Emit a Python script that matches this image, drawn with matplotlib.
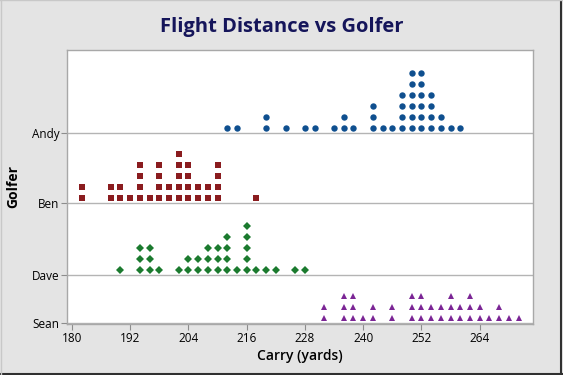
import matplotlib
matplotlib.use('Agg')
import matplotlib.pyplot as plt
from matplotlib.lines import Line2D

plt.rcParams['font.family'] = ['Open Sans', 'DejaVu Sans']

# 每个高尔夫球手的飞行距离（分箱中心，码）和每箱的点数
golfers = ['Sean', 'Dave', 'Ben', 'Andy']

andy_bins = [212, 214, 220, 224, 228, 230, 234, 236, 238, 242, 244, 246, 248, 250, 252, 254, 256, 258, 260]
andy_counts = [1, 1, 2, 1, 1, 1, 1, 2, 1, 3, 1, 1, 4, 6, 6, 4, 2, 1, 1]

ben_bins = [182, 188, 190, 192, 194, 196, 198, 200, 202, 204, 206, 208, 210, 218]
ben_counts = [2, 2, 2, 1, 4, 1, 4, 2, 5, 4, 2, 2, 4, 1]

dave_bins = [190, 194, 196, 198, 202, 204, 206, 208, 210, 212, 214, 216, 218, 220, 222, 226, 228]
dave_counts = [1, 3, 3, 1, 1, 2, 2, 3, 3, 4, 1, 5, 1, 1, 1, 1, 1]

sean_bins = [232, 236, 238, 240, 242, 246, 250, 252, 254, 256, 258, 260, 262, 264, 266, 268, 270, 272]
sean_counts = [2, 3, 3, 1, 2, 2, 3, 3, 2, 2, 3, 2, 3, 2, 1, 2, 1, 1]

x_ticks = [180, 192, 204, 216, 228, 240, 252, 264]

# 样式：标记、颜色、大小、基线位置（像素单位的纵轴）
series = {
    'Sean': (sean_bins, sean_counts, '^', '#7b2595', 5.0, 0.7),
    'Dave': (dave_bins, dave_counts, 'D', '#1b7a2e', 4.2, 49.3),
    'Ben': (ben_bins, ben_counts, 's', '#8a1c1f', 4.4, 120.7),
    'Andy': (andy_bins, andy_counts, 'o', '#0f4f8f', 4.6, 191.3),
}

fig = plt.figure(figsize=(5.63, 3.75), dpi=100, facecolor='#e4e4e4')
ax = fig.add_axes([0.119, 0.136, 0.828, 0.731])
ax.set_facecolor('white')

step = 11.0
first = 5.0
for name in golfers:
    bins, counts, mk, col, ms, base = series[name]
    xs, ys = [], []
    for b, c in zip(bins, counts):
        for k in range(c):
            xs.append(b)
            ys.append(base + first + k * step)
    ax.plot(xs, ys, linestyle='none', marker=mk, color=col, markersize=ms,
            markeredgewidth=0, zorder=3)
    ax.axhline(base, color='#b4b4b4', linewidth=1.0, zorder=1)

ax.set_xlim(179, 275)
ax.set_ylim(0, 274)
ax.set_xticks(x_ticks)
ax.set_yticks([series[g][5] for g in golfers])
ax.set_yticklabels(golfers)
ax.tick_params(axis='both', labelsize=8.5, color='#8c8c8c', length=4, width=0.8, pad=1.5)
for s in ax.spines.values():
    s.set_color('#a8a8a8')
    s.set_linewidth(1.0)

ax.set_xlabel('Carry (yards)', fontsize=10, fontweight='semibold', labelpad=3)
ax.set_ylabel('Golfer', fontsize=10, fontweight='bold', labelpad=8)
fig.text(0.5, 0.928, 'Flight Distance vs Golfer', ha='center', va='center',
         fontsize=14.5, fontweight='bold', color='#15155a')

# 外框：右侧和底部深色边
fig.add_artist(Line2D([0.997, 0.997], [0, 1], transform=fig.transFigure, color='#303030', linewidth=1.5))
fig.add_artist(Line2D([0, 1], [0.003, 0.003], transform=fig.transFigure, color='#303030', linewidth=1.5))
fig.add_artist(Line2D([0.001, 0.001], [0, 1], transform=fig.transFigure, color='#c8c8c8', linewidth=1))
fig.add_artist(Line2D([0, 1], [0.999, 0.999], transform=fig.transFigure, color='#c8c8c8', linewidth=1))

fig.savefig('out.png', dpi=100, facecolor=fig.get_facecolor())
